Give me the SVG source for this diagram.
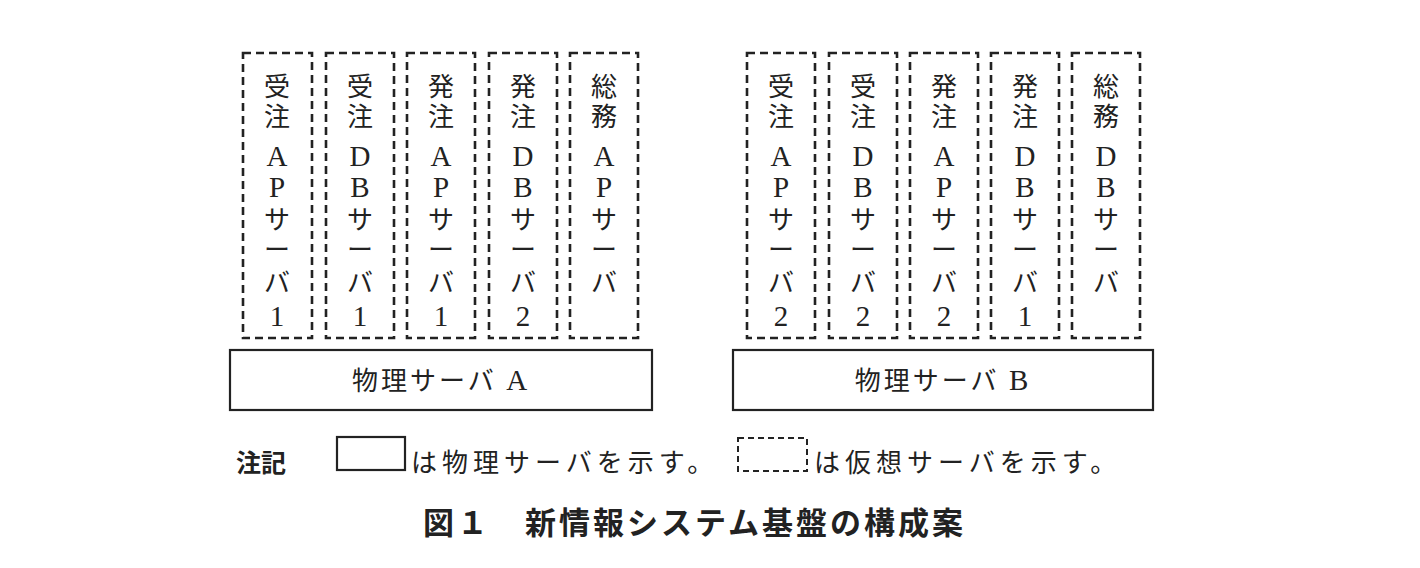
<svg xmlns="http://www.w3.org/2000/svg" width="1420" height="568" viewBox="0 0 1420 568">
<style>
.v{fill:#fff;stroke:#222;stroke-width:2.6;stroke-dasharray:8 5}
.p{fill:#fff;stroke:#222;stroke-width:2.2}
.t{font-family:"Liberation Serif","Noto Sans CJK JP",serif;font-size:26px;fill:#222;text-anchor:middle}
.l{font-size:29px}
.s{font-family:"Liberation Sans","Noto Sans CJK JP",sans-serif;font-size:26px;letter-spacing:5px;fill:#222}
.h{font-family:"Liberation Sans","Noto Sans CJK JP",sans-serif;font-size:31px;letter-spacing:3px;font-weight:bold;fill:#222}
</style>
<rect width="1420" height="568" fill="#fff"/>
<g id="vA1"><rect class="v" x="243" y="53" width="69" height="285"/><text class="t"><tspan x="277" y="96">受</tspan><tspan x="277" y="126">注</tspan><tspan class="l" x="277" y="166">A</tspan><tspan class="l" x="277" y="197">P</tspan><tspan x="277" y="229">サ</tspan><tspan x="277" y="259">ー</tspan><tspan x="277" y="292">バ</tspan><tspan class="l" x="277" y="326">1</tspan></text></g>
<g id="vA2"><rect class="v" x="326" y="53" width="68" height="285"/><text class="t"><tspan x="360" y="96">受</tspan><tspan x="360" y="126">注</tspan><tspan class="l" x="360" y="166">D</tspan><tspan class="l" x="360" y="197">B</tspan><tspan x="360" y="229">サ</tspan><tspan x="360" y="259">ー</tspan><tspan x="360" y="292">バ</tspan><tspan class="l" x="360" y="326">1</tspan></text></g>
<g id="vA3"><rect class="v" x="407" y="53" width="68" height="285"/><text class="t"><tspan x="441" y="96">発</tspan><tspan x="441" y="126">注</tspan><tspan class="l" x="441" y="166">A</tspan><tspan class="l" x="441" y="197">P</tspan><tspan x="441" y="229">サ</tspan><tspan x="441" y="259">ー</tspan><tspan x="441" y="292">バ</tspan><tspan class="l" x="441" y="326">1</tspan></text></g>
<g id="vA4"><rect class="v" x="489" y="53" width="68" height="285"/><text class="t"><tspan x="523" y="96">発</tspan><tspan x="523" y="126">注</tspan><tspan class="l" x="523" y="166">D</tspan><tspan class="l" x="523" y="197">B</tspan><tspan x="523" y="229">サ</tspan><tspan x="523" y="259">ー</tspan><tspan x="523" y="292">バ</tspan><tspan class="l" x="523" y="326">2</tspan></text></g>
<g id="vA5"><rect class="v" x="570" y="53" width="68" height="285"/><text class="t"><tspan x="604" y="96">総</tspan><tspan x="604" y="126">務</tspan><tspan class="l" x="604" y="166">A</tspan><tspan class="l" x="604" y="197">P</tspan><tspan x="604" y="229">サ</tspan><tspan x="604" y="259">ー</tspan><tspan x="604" y="292">バ</tspan></text></g>
<g id="pA"><rect class="p" x="230" y="350" width="422" height="60"/><text class="t" x="441" y="390" style="letter-spacing:3px">物理サーバ <tspan class="l">A</tspan></text></g>
<g id="vB1"><rect class="v" x="747" y="53" width="68" height="285"/><text class="t"><tspan x="781" y="96">受</tspan><tspan x="781" y="126">注</tspan><tspan class="l" x="781" y="166">A</tspan><tspan class="l" x="781" y="197">P</tspan><tspan x="781" y="229">サ</tspan><tspan x="781" y="259">ー</tspan><tspan x="781" y="292">バ</tspan><tspan class="l" x="781" y="326">2</tspan></text></g>
<g id="vB2"><rect class="v" x="829" y="53" width="68" height="285"/><text class="t"><tspan x="863" y="96">受</tspan><tspan x="863" y="126">注</tspan><tspan class="l" x="863" y="166">D</tspan><tspan class="l" x="863" y="197">B</tspan><tspan x="863" y="229">サ</tspan><tspan x="863" y="259">ー</tspan><tspan x="863" y="292">バ</tspan><tspan class="l" x="863" y="326">2</tspan></text></g>
<g id="vB3"><rect class="v" x="910" y="53" width="68" height="285"/><text class="t"><tspan x="944" y="96">発</tspan><tspan x="944" y="126">注</tspan><tspan class="l" x="944" y="166">A</tspan><tspan class="l" x="944" y="197">P</tspan><tspan x="944" y="229">サ</tspan><tspan x="944" y="259">ー</tspan><tspan x="944" y="292">バ</tspan><tspan class="l" x="944" y="326">2</tspan></text></g>
<g id="vB4"><rect class="v" x="991" y="53" width="68" height="285"/><text class="t"><tspan x="1025" y="96">発</tspan><tspan x="1025" y="126">注</tspan><tspan class="l" x="1025" y="166">D</tspan><tspan class="l" x="1025" y="197">B</tspan><tspan x="1025" y="229">サ</tspan><tspan x="1025" y="259">ー</tspan><tspan x="1025" y="292">バ</tspan><tspan class="l" x="1025" y="326">1</tspan></text></g>
<g id="vB5"><rect class="v" x="1072" y="53" width="68" height="285"/><text class="t"><tspan x="1106" y="96">総</tspan><tspan x="1106" y="126">務</tspan><tspan class="l" x="1106" y="166">D</tspan><tspan class="l" x="1106" y="197">B</tspan><tspan x="1106" y="229">サ</tspan><tspan x="1106" y="259">ー</tspan><tspan x="1106" y="292">バ</tspan></text></g>
<g id="pB"><rect class="p" x="733" y="350" width="420" height="60"/><text class="t" x="943" y="390" style="letter-spacing:3px">物理サーバ <tspan class="l">B</tspan></text></g>
<g id="connectors"></g>
<g id="legend">
<text class="h" x="236" y="472" style="font-size:25px;letter-spacing:0">注記</text>
<rect class="p" x="337" y="437" width="68" height="33"/>
<text class="s" x="411" y="472">は物理サーバを示す。</text>
<rect class="v" x="738" y="438" width="69" height="33" style="stroke-dasharray:6 4;stroke-width:2"/>
<text class="s" x="814" y="472">は仮想サーバを示す。</text>
</g>
<text class="h" x="423" y="534">図１　新情報システム基盤の構成案</text>
</svg>
